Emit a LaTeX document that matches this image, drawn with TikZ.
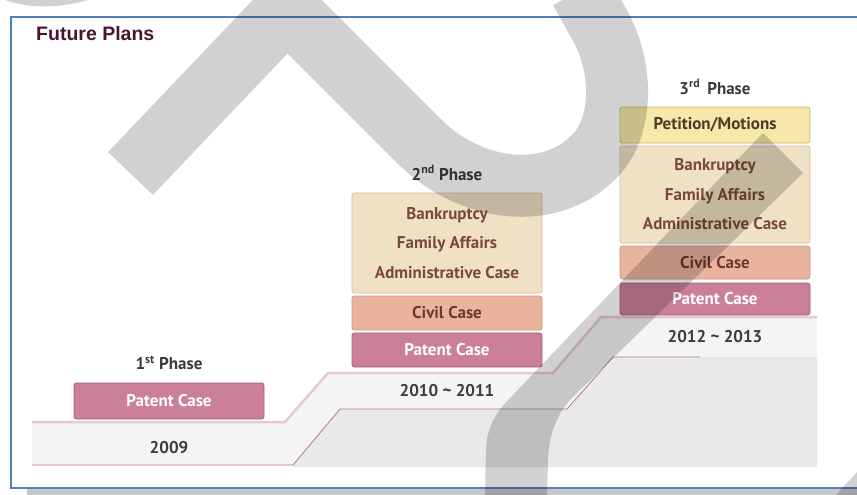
\documentclass[tikz,border=0pt]{standalone}
\usepackage{fontspec}
\setmainfont{PT Sans}
\newfontfamily\titlefont{Liberation Sans}
\definecolor{framec}{HTML}{4F81BD}
\definecolor{titlec}{HTML}{4A1530}
\definecolor{patfill}{HTML}{CB8098}
\definecolor{patdraw}{HTML}{A65C77}
\definecolor{civfill}{HTML}{E9B39E}
\definecolor{civdraw}{HTML}{CF9583}
\definecolor{begfill}{HTML}{F0E0C4}
\definecolor{begdraw}{HTML}{D3BC9C}
\definecolor{petfill}{HTML}{F5E8AA}
\definecolor{petdraw}{HTML}{C9B76F}
\definecolor{begtext}{HTML}{7B4A36}
\definecolor{civtext}{HTML}{6F3A2E}
\definecolor{pettext}{HTML}{4D3B24}
\definecolor{labtext}{HTML}{3C3C3C}
\definecolor{bandc}{HTML}{F4F4F4}
\definecolor{floorc}{HTML}{E9E9E9}
\definecolor{upline}{HTML}{E8C9D1}
\definecolor{lowline}{HTML}{B8768B}
\begin{document}
\begin{tikzpicture}[x=1pt,y=-1pt,
  casebox/.style={rounded corners=2.5pt, line width=0.8pt, minimum width=190pt, inner sep=0pt,
    font=\bfseries\fontsize{17}{29.5}\selectfont, align=center},
  patent/.style={casebox, fill=patfill, draw=patdraw, text=white},
  civil/.style={casebox, fill=civfill, draw=civdraw, text=civtext},
  beige/.style={casebox, fill=begfill, draw=begdraw, text=begtext},
  petition/.style={casebox, fill=petfill, draw=petdraw, text=pettext},
  phaselabel/.style={font=\bfseries\fontsize{17}{19}\selectfont, text=labtext, inner sep=0pt},
  yearlabel/.style={font=\bfseries\fontsize{17}{19}\selectfont, text=labtext, inner sep=0pt},
  titlestyle/.style={font=\titlefont\bfseries\fontsize{19.5}{23}\selectfont, text=titlec, inner sep=0pt, anchor=base west},
  wmark/.style={fill=black, fill opacity=0.18, draw=none}]
\useasboundingbox (0,0) rectangle (857,495);
\fill[white] (0,0) rectangle (857,495);
% shadow below frame
\fill[black!22] (27,489) rectangle (857,495);
% stair band and floor
\fill[bandc] (32,422) -- (285,422) -- (328,373) -- (553,373) -- (601,317) -- (817,317)
  -- (817,357) -- (613,357) -- (567,409) -- (340,409) -- (293,465) -- (32,465) -- cycle;
\fill[floorc] (293,465) -- (340,409) -- (567,409) -- (613,357) -- (817,357) -- (817,467) -- (293,467) -- cycle;
\draw[upline, line width=2.5pt, line join=round] (32,422) -- (285,422) -- (328,373) -- (553,373) -- (601,317) -- (817,317);
\draw[lowline, line width=0.8pt, line join=round] (32,465) -- (293,465) -- (340,409) -- (567,409) -- (613,357) -- (700,357);
% title
\node[titlestyle] (title) at (36,41) {Future Plans};
% phase 1
\node[phaselabel] (ph1) at (169,363) {1\textsuperscript{st} Phase};
\node[patent, minimum height=36pt] (p1) at (169,401) {Patent Case};
\node[yearlabel] (y1) at (169,448) {2009};
% phase 2
\node[phaselabel] (ph2) at (447,173) {2\textsuperscript{nd} Phase};
\node[beige, minimum height=100pt] (b2) at (447,243) {Bankruptcy\\Family Affairs\\Administrative Case};
\node[civil, minimum height=34pt] (c2) at (447,313) {Civil Case};
\node[patent, minimum height=34pt] (p2) at (447,350) {Patent Case};
\node[yearlabel] (y2) at (447,391) {2010 \textasciitilde{} 2011};
% phase 3
\node[phaselabel] (ph3) at (715,87) {3\textsuperscript{rd}\, Phase};
\node[petition, minimum height=36pt] (pm3) at (715,125) {Petition/Motions};
\node[beige, minimum height=97pt] (b3) at (715,194.5) {Bankruptcy\\Family Affairs\\Administrative Case};
\node[civil, minimum height=33pt] (c3) at (715,262.5) {Civil Case};
\node[patent, minimum height=32pt] (p3) at (715,299) {Patent Case};
\node[yearlabel] (y3) at (715,337) {2012 \textasciitilde{} 2013};
% frame
\draw[framec, line width=1.5pt] (860,17) -- (11,17) -- (11,488) -- (860,488);
% watermark strokes
\draw[draw=black, draw opacity=0.18, line width=62pt, line join=miter]
  (130.5,173.5) -- (287,9) -- (420,142) .. controls (470,192) and (555,205) .. (600,150)
  .. controls (624,118) and (622,62) .. (598,22) -- (580,-10);
\fill[wmark] (485,500) -- (486,450) .. controls (487,425) and (497,411) .. (513,395) -- (763,133)
  -- (803,173) -- (573,397) .. controls (558,412) and (549,432) .. (548,460) -- (547,500) -- cycle;
\fill[wmark] (5,0) .. controls (30,9) and (60,8) .. (88,0) -- cycle;
\fill[wmark] (836,495) -- (857,472) -- (857,495) -- cycle;
\end{tikzpicture}
\end{document}
